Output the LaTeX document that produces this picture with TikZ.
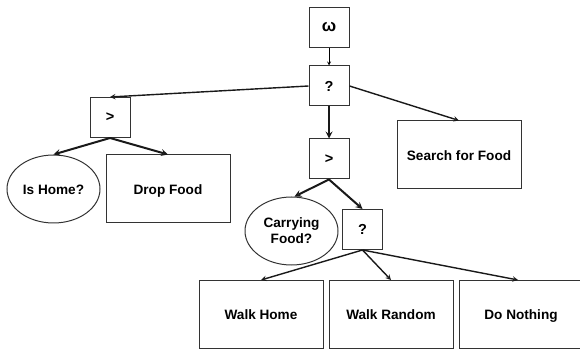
\documentclass[tikz,border=0pt]{standalone}
\usepackage{fontspec}
\setmainfont{Liberation Sans}
\usetikzlibrary{shapes.geometric}

\begin{document}
\begin{tikzpicture}[x=1pt, y=-1pt,
  every node/.style = {draw=black!80, line width=1pt, align=center,
    font=\fontsize{13.6}{16}\selectfont\bfseries, inner sep=0pt},
  ctrl/.style = {shape=rectangle, minimum width=40pt, minimum height=40pt,
    font=\fontsize{14.5}{16}\selectfont\bfseries},
  task/.style = {shape=rectangle, minimum width=124pt, minimum height=68pt,
    text height=2ex, text depth=0pt},
  cond/.style = {shape=ellipse, minimum width=93pt, minimum height=68pt},
  link/.style = {-stealth, line width=1.4pt, black!90},
  thicklink/.style = {-stealth, line width=2pt, black!90}]
  \useasboundingbox (0,0) rectangle (580,352);
  \node[ctrl, font=\fontsize{17}{18}\selectfont\bfseries] (root) at (329,27.5) {ω};
  \node[ctrl] (sel) at (329,86) {?};
  \node[ctrl] (seqHome) at (110,117.5) {>};
  \node[ctrl] (seqFood) at (329,159) {>};
  \node[task] (search) at (459,155) {Search for Food};
  \node[cond, text height=2ex, text depth=0pt] (isHome) at (53.5,189) {Is Home?};
  \node[task] (drop) at (168,189) {Drop Food};
  \node[cond] (carrying) at (291.5,231) {Carrying\\Food?};
  \node[ctrl] (selMove) at (362.5,229.5) {?};
  \node[task] (walkHome) at (261,314.5) {Walk Home};
  \node[task] (walkRandom) at (391,314.5) {Walk Random};
  \node[task] (nothing) at (521,314.5) {Do Nothing};

  \draw[-stealth, line width=0.8pt] (root) -- (sel);
  \draw[link] (sel.west) -- (seqHome.north);
  \draw[link] (sel.east) -- (search.north);
  \draw[thicklink] (sel) -- (seqFood);
  \draw[thicklink] (seqHome.south) -- (isHome.north);
  \draw[thicklink] (seqHome.south) -- (drop.north);
  \draw[thicklink] (seqFood.south) -- ([xshift=3pt]carrying.north);
  \draw[thicklink] (seqFood.south) -- (selMove.north);
  \draw[link] (selMove.south) -- (walkHome.north);
  \draw[link] (selMove.south) -- (walkRandom.north);
  \draw[link] (selMove.south) -- ([xshift=-3pt]nothing.north);
\end{tikzpicture}
\end{document}
